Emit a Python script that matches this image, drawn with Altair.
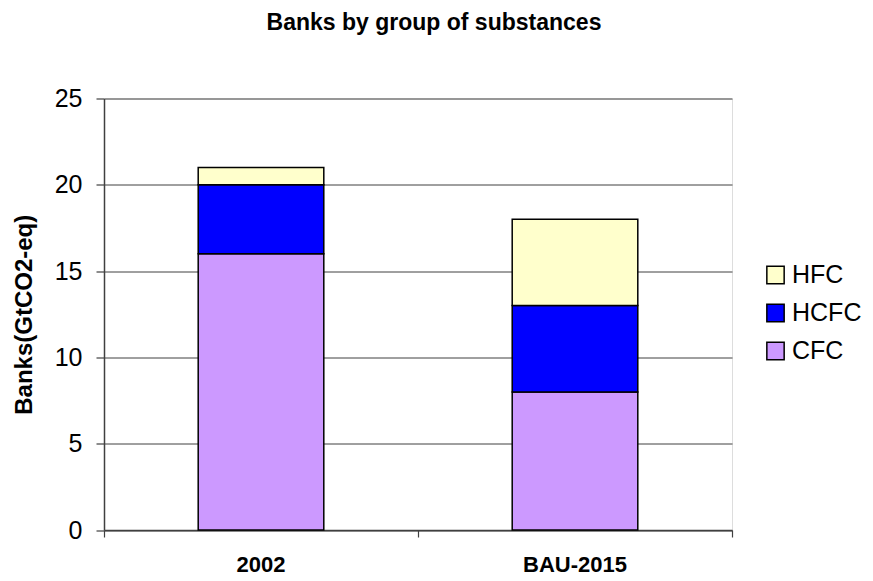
import altair as alt
import pandas as pd

# ---- data ----
categories = ["2002", "BAU-2015"]
groups = ["CFC", "HCFC", "HFC"]          # stacking order, bottom to top
cfc = [16, 8]
hcfc = [4, 5]
hfc = [1, 5]
legend_order = ["HFC", "HCFC", "CFC"]
colors = ["#FFFFCC", "#0000FF", "#CC99FF"]
y_ticks = [0, 5, 10, 15, 20, 25]

rows = []
for i, c in enumerate(categories):
    for j, (g, vals) in enumerate(zip(groups, [cfc, hcfc, hfc])):
        rows.append({"period": c, "group": g, "value": vals[i], "stack": j})
df = pd.DataFrame(rows)
bounds = pd.DataFrame({"b": list(range(len(categories) + 1))})

FONT = "Arial, Liberation Sans, sans-serif"
AX = "#404040"

bars = alt.Chart(df).mark_bar(stroke="black", strokeWidth=1.5).encode(
    x=alt.X(
        "period:N", sort=categories, title=None,
        scale=alt.Scale(paddingInner=0.6, paddingOuter=0.3),
        axis=alt.Axis(
            orient="bottom", labelAngle=0, ticks=False, labelFont=FONT,
            labelFontWeight="bold", labelFontSize=22, labelColor="black",
            labelPadding=24, domainColor=AX, domainWidth=1.5, grid=False,
        ),
    ),
    y=alt.Y(
        "value:Q", stack="zero",
        scale=alt.Scale(domain=[0, 25], nice=False),
        axis=alt.Axis(
            values=y_ticks, title="Banks(GtCO2-eq)", titleFont=FONT,
            titleFontSize=24, titleFontWeight="bold", titleColor="black",
            titlePadding=18, labelFont=FONT, labelFontSize=25,
            labelColor="black", labelPadding=14, tickSize=8, tickColor=AX,
            tickWidth=1.2, domainColor=AX, domainWidth=1.5, gridColor=AX,
            gridWidth=1, gridOpacity=1,
        ),
    ),
    color=alt.Color(
        "group:N",
        scale=alt.Scale(domain=legend_order, range=colors),
        legend=alt.Legend(
            title=None, orient="none", legendX=659, legendY=164,
            symbolType="square", symbolSize=300, symbolStrokeColor="black",
            symbolStrokeWidth=1.5, symbolOpacity=1, labelFont=FONT,
            labelFontSize=25, labelColor="black", labelOffset=4,
            rowPadding=12, padding=0,
        ),
    ),
    order=alt.Order("stack:Q", sort="ascending"),
)

ticks = alt.Chart(bounds).mark_rule(opacity=0).encode(
    x=alt.X(
        "b:Q", title=None,
        scale=alt.Scale(domain=[0, len(categories)], nice=False, zero=False),
        axis=alt.Axis(
            orient="bottom", values=list(range(len(categories) + 1)),
            labels=False, ticks=True, tickSize=7, tickColor=AX,
            tickWidth=1.2, domain=False, grid=False,
        ),
    )
)

chart = alt.layer(bars, ticks).resolve_scale(x="independent").properties(
    width=628,
    height=431.5,
    autosize="none",
    padding={"left": 96, "top": 90.5, "right": 133, "bottom": 50},
    title=alt.TitleParams(
        "Banks by group of substances", font=FONT, fontSize=23,
        fontWeight="bold", color="black", anchor="middle", frame="group",
        offset=52, dx=16,
    ),
).configure_view(stroke="#8c8c8c", strokeWidth=1.5).configure(background="white")

chart.save("out.html", embed_options={"renderer": "svg", "actions": False})
